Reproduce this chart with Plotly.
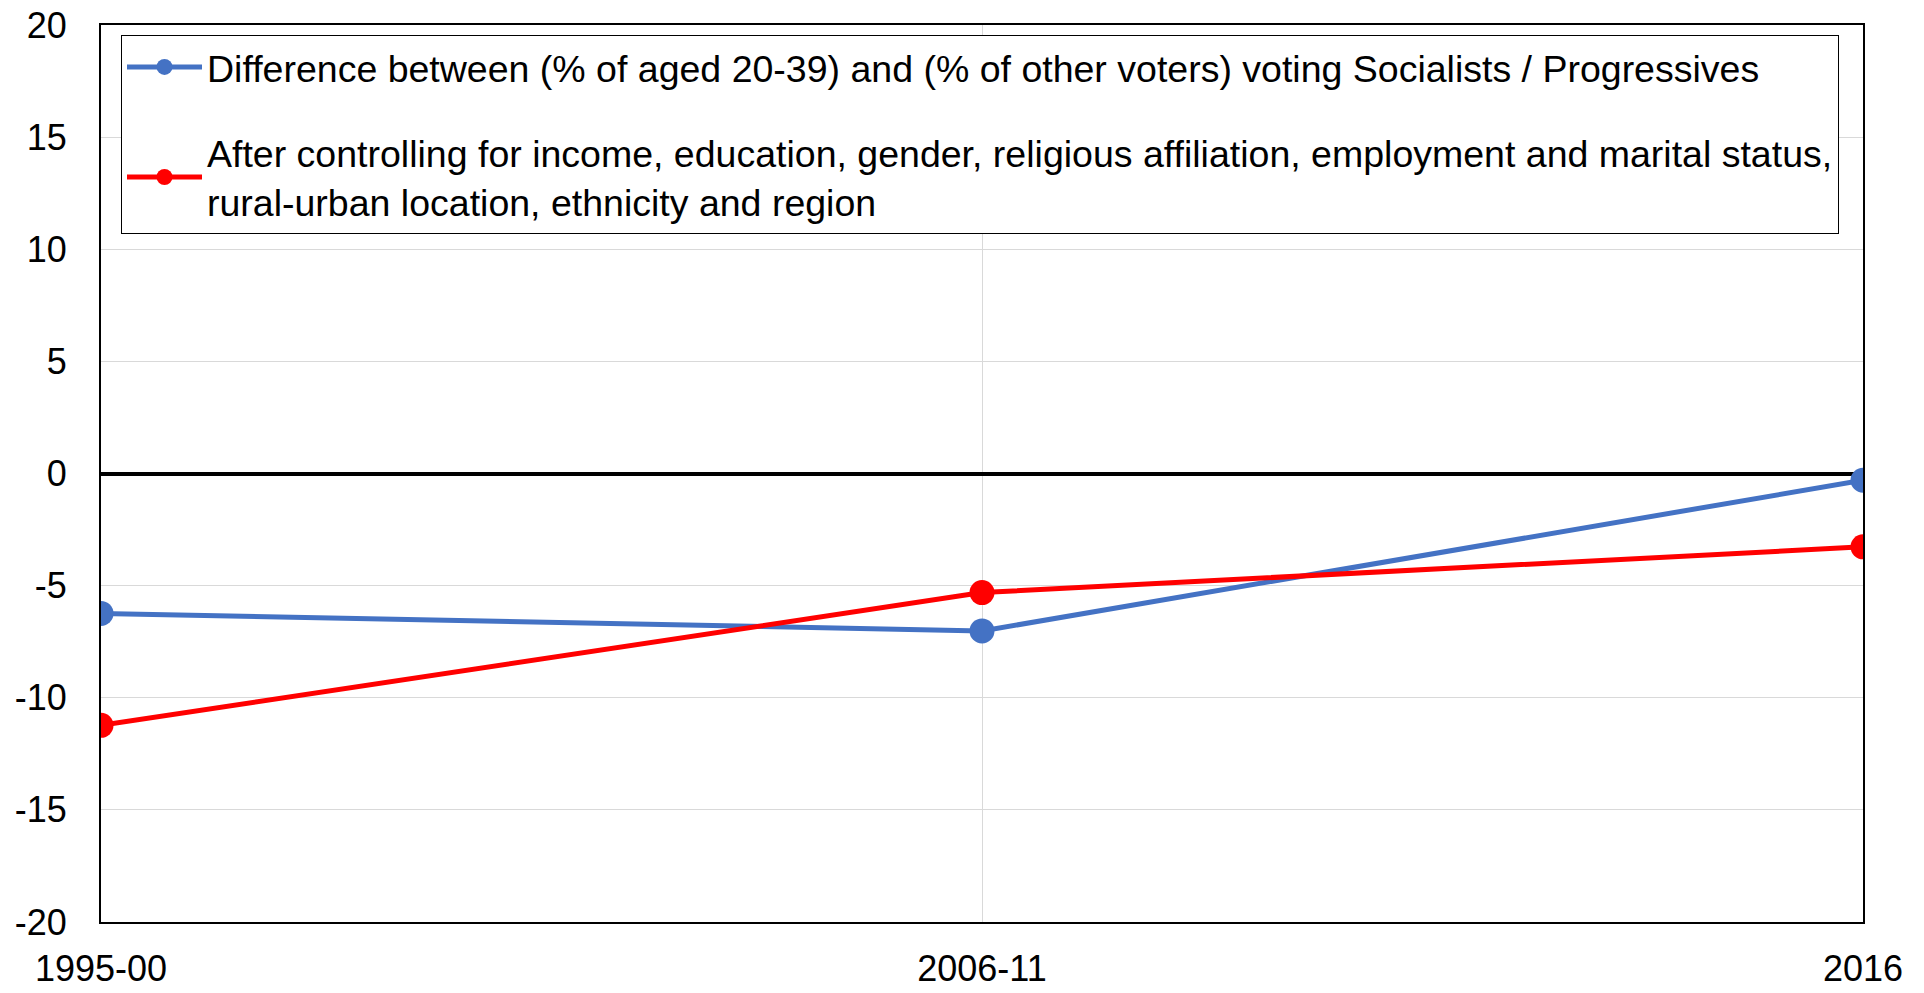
import plotly.graph_objects as go

periods = ["1995-00", "2006-11", "2016"]
raw_diff = [-6.24, -7.02, -0.30]
controlled = [-11.23, -5.31, -3.27]
y_ticks = [-20, -15, -10, -5, 0, 5, 10, 15, 20]
y_tick_text = ["-20", "-15", "-10", "-5", "0", "5", "10", "15", "20"]

name_raw = "Difference between (% of aged 20-39) and (% of other voters) voting Socialists / Progressives"
name_ctrl = ("After controlling for income, education, gender, religious affiliation, employment and marital status,"
             "<br>rural-urban location, ethnicity and region")

W, H = 1924, 993
L, T, R, B = 101, 25, 61, 71

fig = go.Figure()
fig.add_trace(go.Scatter(x=list(range(len(periods))), y=raw_diff, mode="lines+markers", name=name_raw,
                         line=dict(color="#4472C4", width=5), marker=dict(size=25, color="#4472C4"),
                         legendgroup="a"))
fig.add_trace(go.Scatter(x=list(range(len(periods))), y=controlled, mode="lines+markers", name=name_ctrl,
                         line=dict(color="#FF0000", width=5), marker=dict(size=25, color="#FF0000"),
                         legendgroup="b"))

font_family = "Liberation Sans, Arial, sans-serif"
fig.update_layout(
    width=W, height=H,
    margin=dict(l=L, r=R, t=T, b=B, pad=0),
    paper_bgcolor="white", plot_bgcolor="white",
    font=dict(family=font_family, color="black", size=36),
    legend=dict(x=(121 - L) / (W - L - R), y=(H - B - 35) / (H - T - B), xanchor="left", yanchor="top",
                bgcolor="white", bordercolor="black", borderwidth=1,
                font=dict(family=font_family, size=37.5),
                tracegroupgap=34, traceorder="grouped", itemsizing="trace", itemwidth=75),
    showlegend=True,
)
fig.update_xaxes(
    tickmode="array", tickvals=list(range(len(periods))), ticktext=periods,
    range=[0, len(periods) - 1], showgrid=True, gridcolor="#D9D9D9", gridwidth=1,
    showline=True, linecolor="black", linewidth=2, mirror=True, zeroline=False,
    ticks="", ticklabelstandoff=14, tickfont=dict(size=36), automargin=False,
)
fig.update_yaxes(
    tickmode="array", tickvals=y_ticks, ticktext=y_tick_text, range=[-20, 20],
    showgrid=True, gridcolor="#D9D9D9", gridwidth=1,
    showline=True, linecolor="black", linewidth=2, mirror=True,
    zeroline=True, zerolinecolor="black", zerolinewidth=4,
    ticks="", ticklabelstandoff=25, tickfont=dict(size=36), automargin=False,
)

fig.write_html("out.html", config={"displayModeBar": False},
               post_script="document.body.style.margin='0';")
